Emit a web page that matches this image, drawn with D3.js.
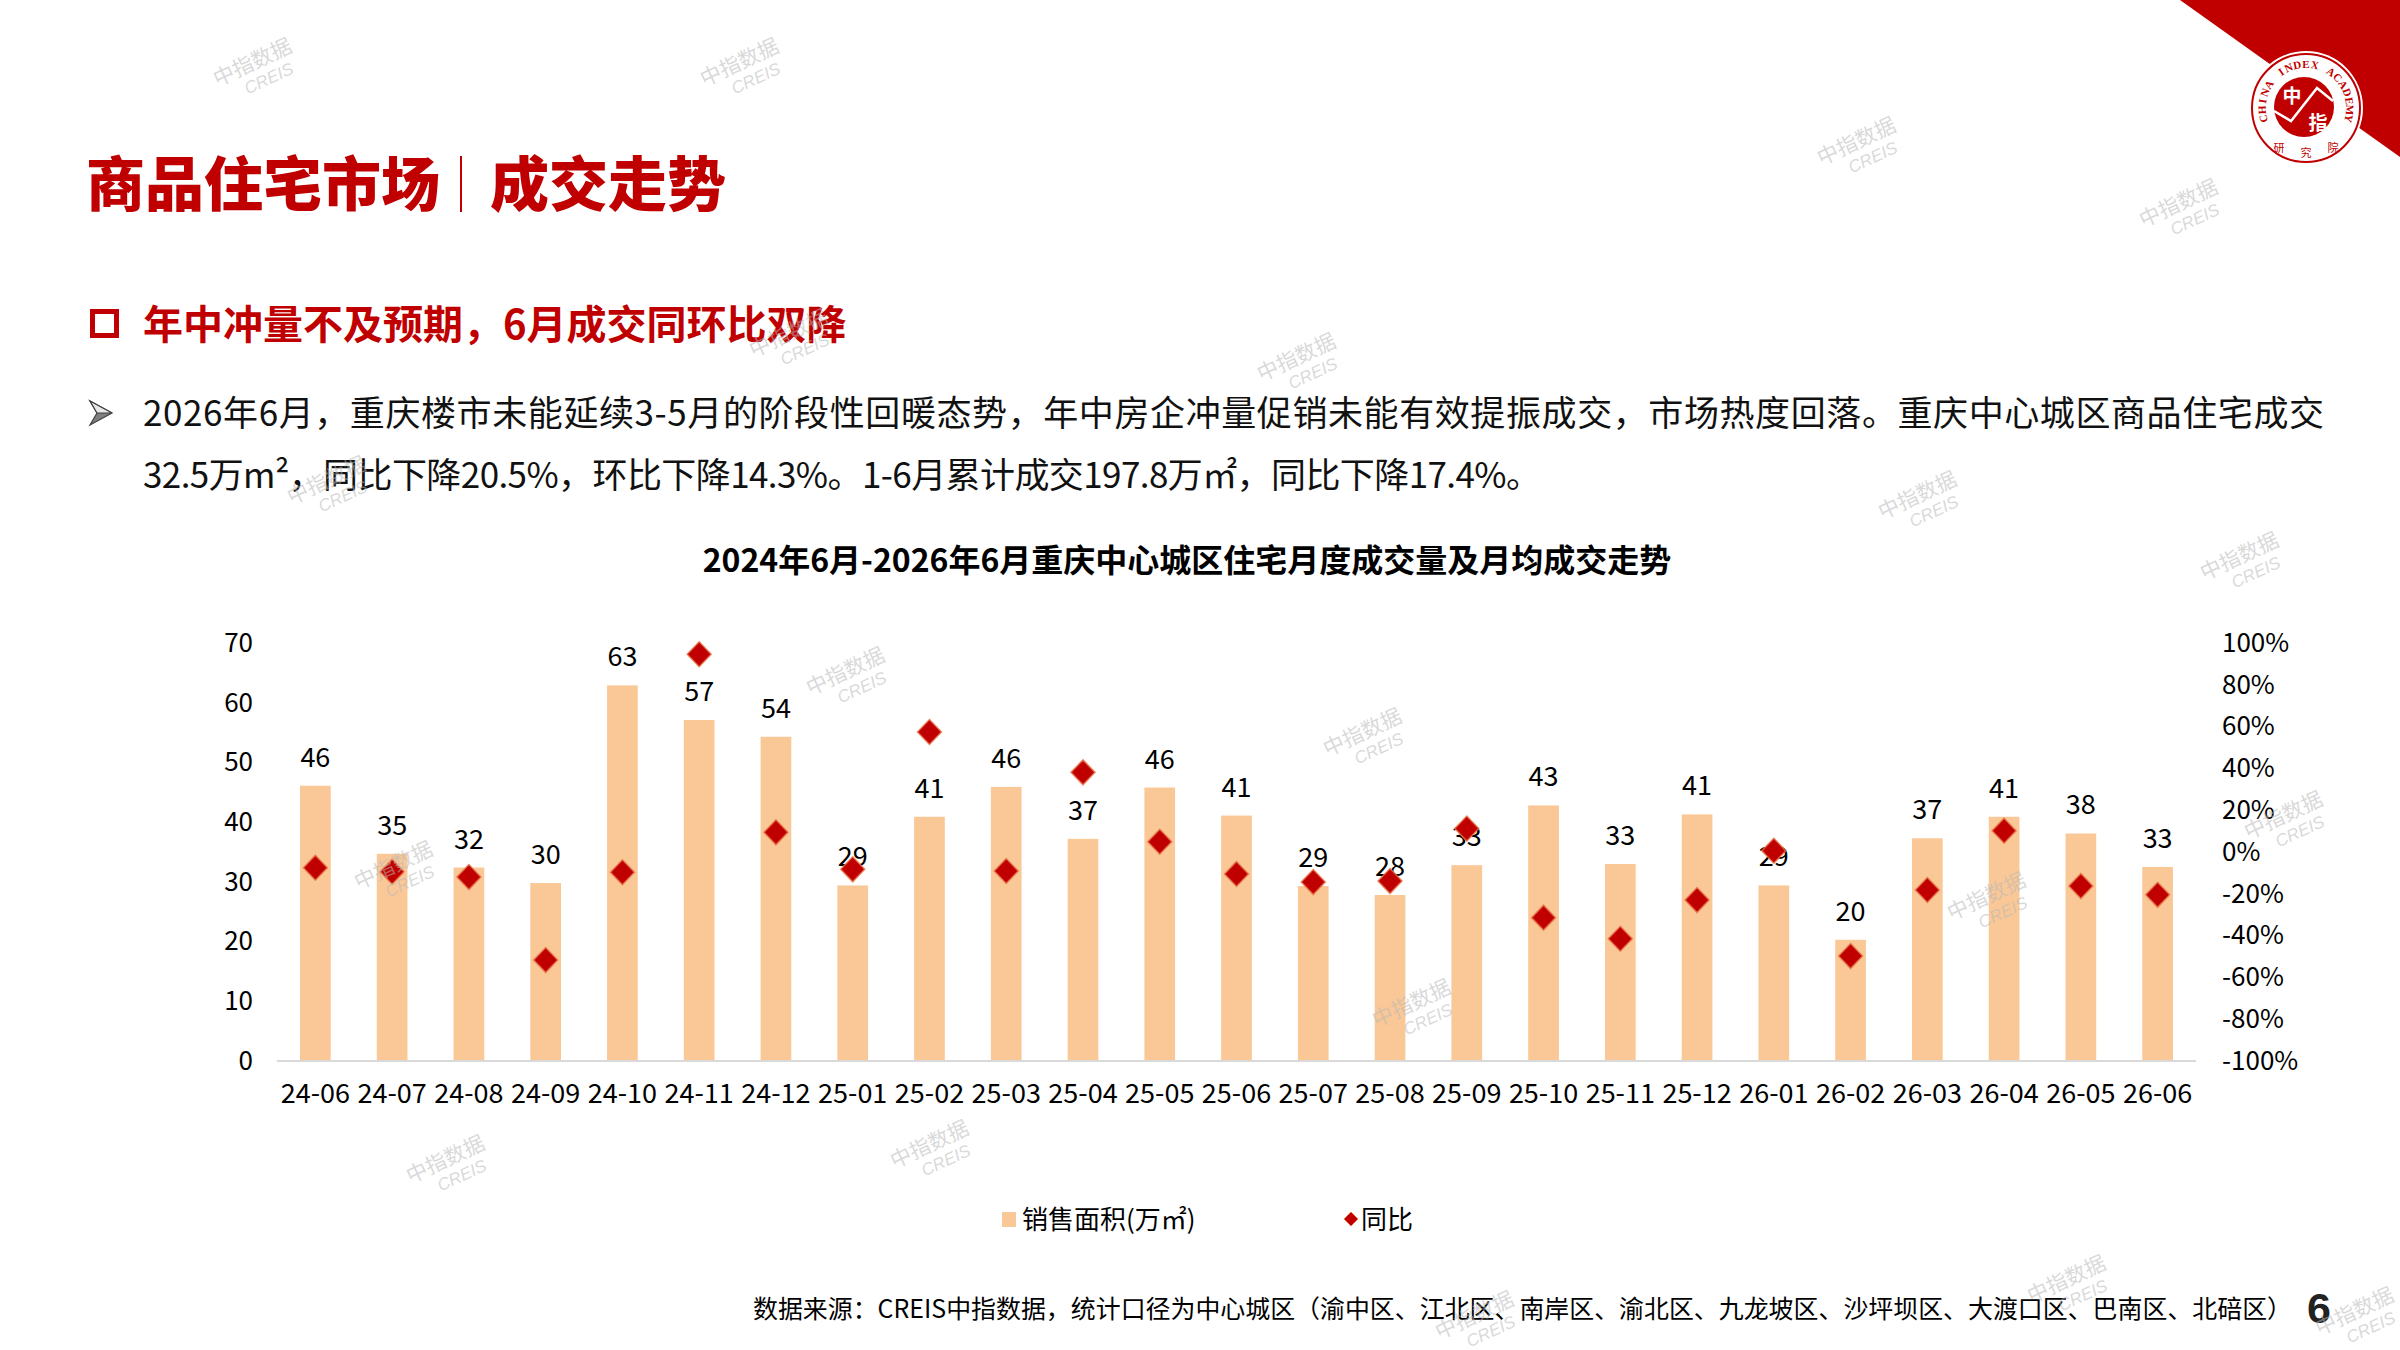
<!DOCTYPE html>
<html><head><meta charset="utf-8">
<script src="https://cdn.jsdelivr.net/npm/d3@7/dist/d3.min.js"></script>
<style>html,body{margin:0;padding:0;background:#fff;overflow:hidden;} svg{display:block;}</style>
</head><body>
<svg id="c" width="2400" height="1350"></svg>
<script>
// ---------- data ----------
const categories = ["24-06","24-07","24-08","24-09","24-10","24-11","24-12","25-01","25-02","25-03","25-04","25-05","25-06","25-07","25-08","25-09","25-10","25-11","25-12","26-01","26-02","26-03","26-04","26-05","26-06"];
const salesArea = [46.1,34.7,32.4,29.8,62.9,57.1,54.3,29.4,40.9,45.9,37.2,45.8,41.1,29.3,27.8,32.8,42.8,33.0,41.3,29.4,20.3,37.3,40.9,38.1,32.5];
const yoyPct = [-7.5,-9.4,-12.0,-51.7,-9.7,94.6,9.4,-8.3,57.4,-9.1,38.1,4.9,-10.5,-14.4,-13.9,11.2,-31.4,-41.5,-23.0,0.6,-49.8,-18.2,10.2,-16.3,-20.5];
const leftTicks = [0,10,20,30,40,50,60,70];
const rightTicks = [-100,-80,-60,-40,-20,0,20,40,60,80,100];
const seriesNames = ["销售面积(万㎡)","同比"];
const chartTitle = "2024年6月-2026年6月重庆中心城区住宅月度成交量及月均成交走势";
const pageTitleA = "商品住宅市场";
const pageTitleB = "成交走势";
const subTitle = "年中冲量不及预期，6月成交同环比双降";
const bodyLines = ["2026年6月，重庆楼市未能延续3-5月的阶段性回暖态势，年中房企冲量促销未能有效提振成交，市场热度回落。重庆中心城区商品住宅成交",
                   "32.5万m²，同比下降20.5%，环比下降14.3%。1-6月累计成交197.8万㎡，同比下降17.4%。"];
const sourceNote = "数据来源：CREIS中指数据，统计口径为中心城区（渝中区、江北区、南岸区、渝北区、九龙坡区、沙坪坝区、大渡口区、巴南区、北碚区）";
const pageNo = "6";

// ---------- styles ----------
const RED = "#C00000";
const BAR = "#FAC896";
const CJK = "'Noto Sans CJK SC','Noto Sans',sans-serif";

const svg = d3.select("#c");

// watermarks (decoration)
const wm = [[260,69],[747,69],[1864,148],[2186,210],[1304,364],[796,340],[1925,502],[2247,563],[334,487],[853,678],[1370,739],[401,872],[2291,822],[1994,903],[1419,1010],[453,1166],[937,1151],[2074,1286],[2362,1318],[1482,1322]];

// ---------- header ----------
svg.append("path").attr("d","M2180,0L2400,0L2400,157Z").attr("fill","#C00000");
const lg = svg.append("g").attr("transform","translate(2306,108)");
lg.append("circle").attr("r",57).attr("fill","#fff");
lg.append("circle").attr("r",54).attr("fill","none").attr("stroke",RED).attr("stroke-width",2);
lg.append("circle").attr("cx",-2).attr("cy",-1).attr("r",30).attr("fill",RED);
lg.append("text").attr("x",-14).attr("y",-5).attr("text-anchor","middle").attr("font-family",CJK).attr("font-weight",700).attr("font-size",19).attr("fill","#fff").text("中");
lg.append("text").attr("x",12).attr("y",22).attr("text-anchor","middle").attr("font-family",CJK).attr("font-weight",700).attr("font-size",19).attr("fill","#fff").text("指");
lg.append("path").attr("d","M-32,3L-15,13L11,-20L27,-7").attr("fill","none").attr("stroke","#fff").attr("stroke-width",2.5);
// ring lettering, one glyph at a time
const ringText = "CHINA INDEX ACADEMY";
const ringR = 44, aStart = 166, aEnd = 374;
ringText.split("").forEach((ch,i)=>{
  if (ch === " ") return;
  const ang = aStart + (aEnd-aStart)*(i/(ringText.length-1));
  const rad = ang*Math.PI/180;
  lg.append("text").attr("transform",`translate(${ringR*Math.cos(rad)},${ringR*Math.sin(rad)}) rotate(${ang+90})`)
    .attr("text-anchor","middle").attr("dy","0.35em")
    .attr("font-family","'Liberation Serif','DejaVu Serif',serif").attr("font-weight",700).attr("font-size",11).attr("fill",RED).text(ch);
});
[["研",-27,44],["究",0,49],["院",27,44]].forEach(([t,x,y])=>{
  lg.append("text").attr("x",x).attr("y",y).attr("text-anchor","middle").attr("font-family",CJK).attr("font-size",11).attr("fill",RED).text(t);
});

// page title
svg.append("text").attr("x",86).attr("y",206).attr("font-family",CJK).attr("font-weight",900).attr("font-size",59).attr("fill",RED).text(pageTitleA);
svg.append("line").attr("x1",461).attr("x2",461).attr("y1",156).attr("y2",212).attr("stroke",RED).attr("stroke-width",2);
svg.append("text").attr("x",490).attr("y",206).attr("font-family",CJK).attr("font-weight",900).attr("font-size",59).attr("fill",RED).text(pageTitleB);

// subtitle
svg.append("rect").attr("x",92.5).attr("y",311.5).attr("width",24).attr("height",24).attr("fill","none").attr("stroke",RED).attr("stroke-width",5);
svg.append("text").attr("x",143).attr("y",339).attr("font-family",CJK).attr("font-weight",700).attr("font-size",40).attr("fill",RED).text(subTitle);

// body
svg.append("path").attr("d","M90,401L112,413L90,425L97,413Z").attr("fill","#7f7f7f").attr("stroke","#404040").attr("stroke-width",1.2);
svg.append("path").attr("d","M90,401L112,413L97,413Z").attr("fill","#e8e8e8").attr("stroke","#404040").attr("stroke-width",1.2);
const bodyLens = [2181, 1398];
bodyLines.forEach((t,i)=>{
  svg.append("text").attr("x",143).attr("y",426+i*62).attr("font-family",CJK).attr("font-size",35).attr("fill","#111")
    .attr("textLength",bodyLens[i]).attr("lengthAdjust","spacing").text(t);
});

// chart title
svg.append("text").attr("x",1187).attr("y",572).attr("text-anchor","middle").attr("font-family",CJK).attr("font-weight",700).attr("font-size",32).attr("fill","#000").text(chartTitle);

// ---------- chart ----------
const x = d3.scaleBand().domain(categories).range([277,2196]).paddingInner(0.6).paddingOuter(0.3);
const yL = d3.scaleLinear().domain([0,70]).range([1061,643]);
const yR = d3.scaleLinear().domain([-100,100]).range([1061,643]);

svg.append("g").selectAll("rect").data(categories).join("rect")
  .attr("x",d=>x(d)).attr("width",x.bandwidth())
  .attr("y",(d,i)=>yL(salesArea[i])).attr("height",(d,i)=>yL(0)-yL(salesArea[i]))
  .attr("fill",BAR);

svg.append("line").attr("x1",277).attr("x2",2196).attr("y1",yL(0)).attr("y2",yL(0)).attr("stroke","#D9D9D9").attr("stroke-width",2);

const gl = svg.append("g").attr("transform","translate(253,0)")
  .call(d3.axisLeft(yL).tickValues(leftTicks).tickSize(0).tickPadding(0));
gl.select(".domain").remove();
gl.selectAll("text").attr("font-family",CJK).attr("font-size",26).attr("fill","#000");

const gr = svg.append("g").attr("transform","translate(2222,0)")
  .call(d3.axisRight(yR).tickValues(rightTicks).tickSize(0).tickPadding(0).tickFormat(d=>d+"%"));
gr.select(".domain").remove();
gr.selectAll("text").attr("font-family",CJK).attr("font-size",26).attr("fill","#000");

const gb = svg.append("g").attr("transform",`translate(0,${yL(0)})`)
  .call(d3.axisBottom(x).tickSize(0).tickPadding(23));
gb.select(".domain").remove();
gb.selectAll("text").attr("font-family",CJK).attr("font-size",27).attr("fill","#000");

svg.append("g").selectAll("text").data(categories).join("text")
  .attr("x",d=>x(d)+x.bandwidth()/2).attr("y",(d,i)=>yL(salesArea[i])-19)
  .attr("text-anchor","middle").attr("font-family",CJK).attr("font-size",27).attr("fill","#000")
  .text((d,i)=>Math.round(salesArea[i]));

const dia = "M0,-12.5L12,0L0,12.5L-12,0Z";
svg.append("g").selectAll("path").data(categories).join("path")
  .attr("d",dia)
  .attr("transform",(d,i)=>`translate(${x(d)+x.bandwidth()/2},${yR(yoyPct[i])})`)
  .attr("fill",RED).attr("stroke","#E8764A").attr("stroke-width",1.5).attr("stroke-opacity",0.8);

// legend
svg.append("rect").attr("x",1002).attr("y",1212).attr("width",14).attr("height",15).attr("fill",BAR);
svg.append("text").attr("x",1022).attr("y",1229).attr("font-family",CJK).attr("font-size",26).attr("fill","#000").text(seriesNames[0]);
svg.append("path").attr("d","M0,-7L7,0L0,7L-7,0Z").attr("transform","translate(1351,1219)").attr("fill",RED).attr("stroke","#E8764A").attr("stroke-width",1);
svg.append("text").attr("x",1361).attr("y",1229).attr("font-family",CJK).attr("font-size",26).attr("fill","#000").text(seriesNames[1]);

// footer
svg.append("text").attr("x",753).attr("y",1318).attr("font-family",CJK).attr("font-size",25).attr("fill","#000")
  .attr("textLength",1539).attr("lengthAdjust","spacingAndGlyphs").text(sourceNote);
svg.append("text").attr("x",2307).attr("y",1323).attr("font-family","'Liberation Sans',Arial,sans-serif").attr("font-weight",700).attr("font-size",43).attr("fill","#222").text(pageNo);

// watermarks
const wg = svg.append("g").attr("pointer-events","none");
wm.forEach(([cx,cy])=>{
  const g = wg.append("g").attr("transform",`translate(${cx},${cy}) rotate(-25)`).attr("fill","#b8b8b8").attr("fill-opacity",0.55);
  g.append("text").attr("x",-4).attr("y",-2).attr("text-anchor","middle").attr("font-family",CJK).attr("font-size",21).text("中指数据");
  g.append("text").attr("x",4).attr("y",18).attr("text-anchor","middle").attr("font-family","'Liberation Sans',Arial,sans-serif").attr("font-style","italic").attr("font-size",17).text("CREIS");
});
</script>
</body></html>
